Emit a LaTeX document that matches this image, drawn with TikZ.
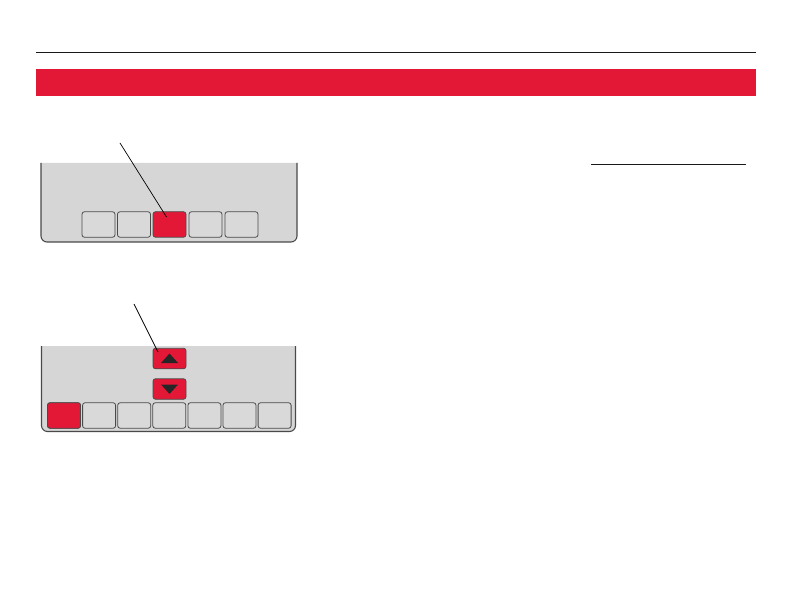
\documentclass[tikz,border=0pt]{standalone}
\usetikzlibrary{calc}
\begin{document}
\begin{tikzpicture}[x=1pt,y=-1pt,
  keybox/.style={draw=edgegray,line width=0.8pt,fill=keygray,rounded corners=2.5pt,minimum width=33pt,minimum height=25.5pt,inner sep=0pt},
  redkey/.style={keybox,fill=hwred},
  arrowkey/.style={draw=edgegray,line width=0.8pt,fill=hwred,rounded corners=2.5pt,minimum width=33pt,minimum height=20.5pt,inner sep=0pt},
  paneledge/.style={draw=edgegray,line width=1.1pt},
  leader/.style={draw=black,line width=0.7pt},
  tri/.style={fill=black!85}
]
\definecolor{hwred}{HTML}{E31837}
\definecolor{panelgray}{HTML}{D6D6D6}
\definecolor{keygray}{HTML}{D9D9D9}
\definecolor{edgegray}{HTML}{4A4A4A}
\useasboundingbox (0,0) rectangle (792,612);

% top rule and red banner
\draw[line width=1pt,black!90] (36,53) -- (756,53);
\fill[hwred] (36,69) rectangle (756,96);

% ---- panel 1 ----
\fill[panelgray] (41,163) -- (41,236) arc[start angle=180,end angle=90,radius=6] -- (291,242) arc[start angle=90,end angle=0,radius=6] -- (297,163) -- cycle;
\draw[paneledge] (41,163) -- (41,236) arc[start angle=180,end angle=90,radius=6] -- (291,242) arc[start angle=90,end angle=0,radius=6] -- (297,163);
\node[keybox] (a1) at (98.5,224.5) {};
\node[keybox] (a2) at (134,224.5) {};
\node[redkey] (a3) at (169.5,224.5) {};
\node[keybox] (a4) at (205.5,224.5) {};
\node[keybox] (a5) at (241.5,224.5) {};
\coordinate (p1) at (120,143);
\draw[leader] (p1) -- (166.5,217);

% ---- panel 2 ----
\fill[panelgray] (41.5,346) -- (41.5,425.5) arc[start angle=180,end angle=90,radius=6] -- (289.5,431.5) arc[start angle=90,end angle=0,radius=6] -- (295.5,346) -- cycle;
\draw[paneledge] (41.5,346) -- (41.5,425.5) arc[start angle=180,end angle=90,radius=6] -- (289.5,431.5) arc[start angle=90,end angle=0,radius=6] -- (295.5,346);
\node[arrowkey] (up) at (169.5,358.5) {};
\node[arrowkey] (down) at (169.5,389) {};
\fill[tri] ($(up.center)+(-8.5,4.5)$) -- ($(up.center)+(8.5,4.5)$) -- ($(up.center)+(0,-5)$) -- cycle;
\fill[tri] ($(down.center)+(-8.5,-4.5)$) -- ($(down.center)+(8.5,-4.5)$) -- ($(down.center)+(0,5)$) -- cycle;
\foreach \i in {0,...,6}{
  \node[keybox] (b\i) at ({64+35.1*\i},415.5) {};
}
\node[redkey] at (b0) {};
\coordinate (p2) at (134,304);
\draw[leader] (p2) -- (158,352);

% underline at right
\draw[line width=1pt,black!90] (591,164.5) -- (746,164.5);
\end{tikzpicture}
\end{document}
